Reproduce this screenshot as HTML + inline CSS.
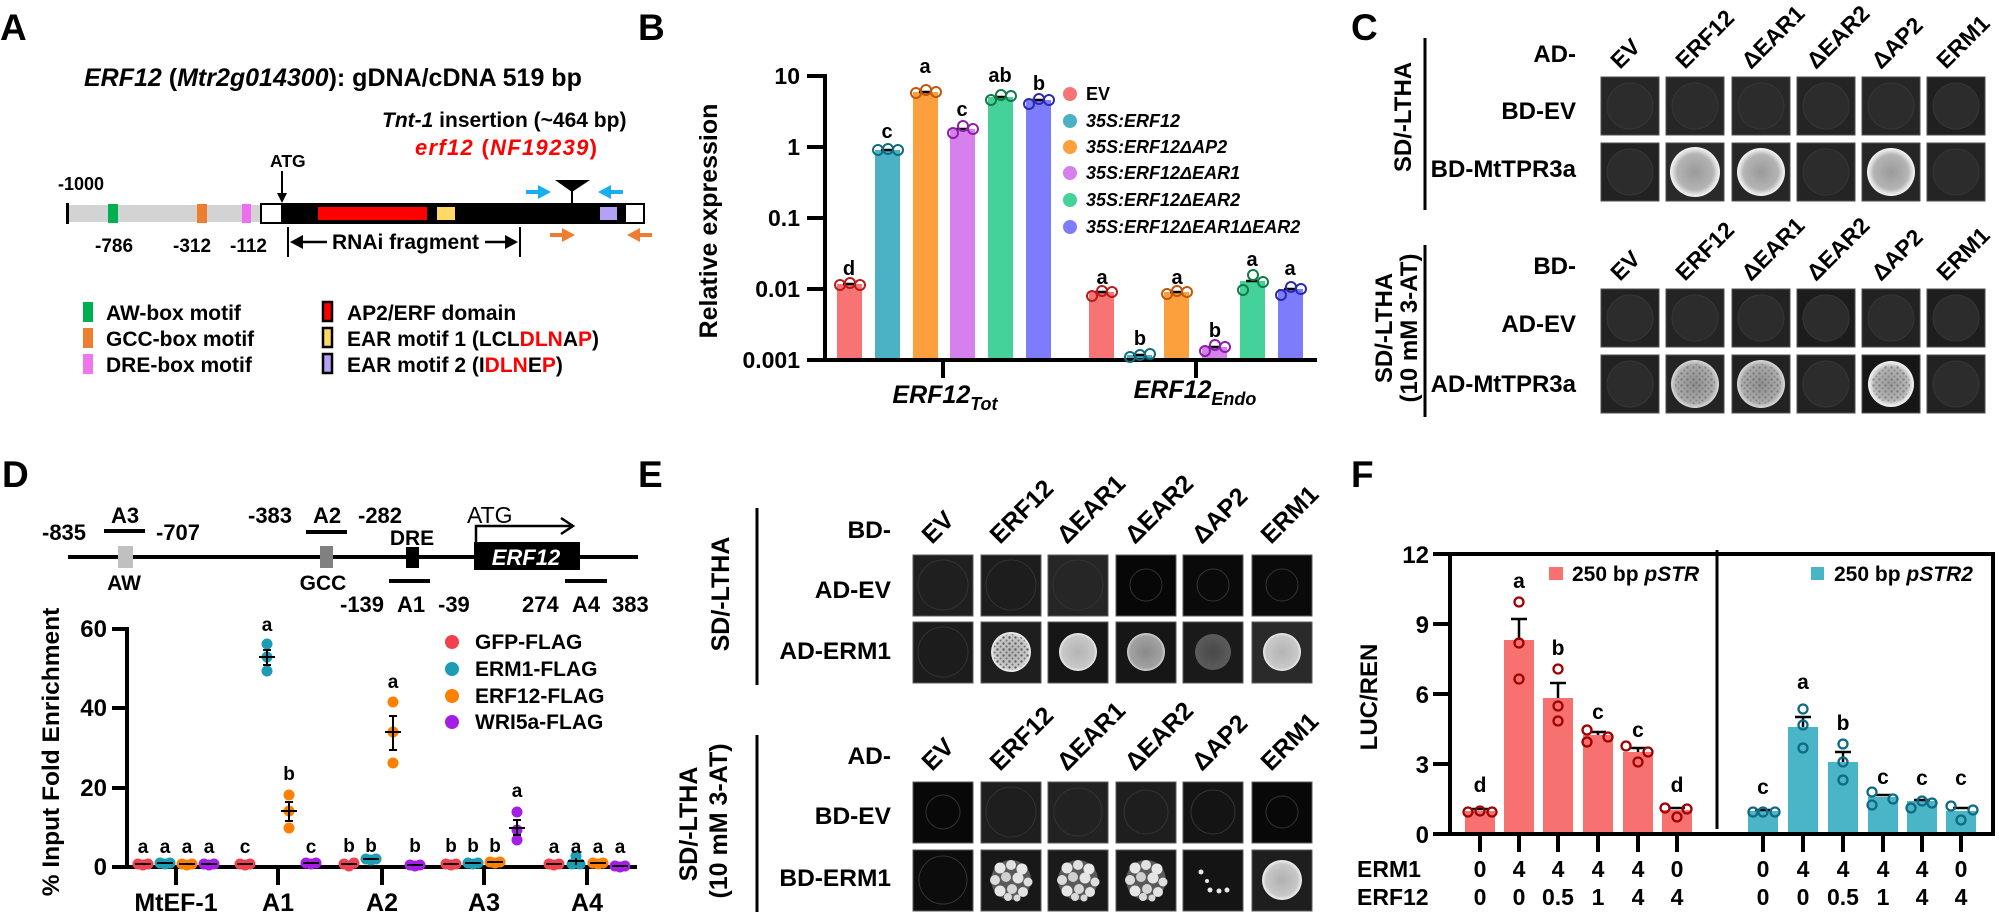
<!DOCTYPE html>
<html><head><meta charset="utf-8">
<style>
html,body{margin:0;padding:0;background:#fff;}
svg{display:block;}
text{font-family:"Liberation Sans",Arial,sans-serif;font-weight:bold;}
.n{font-weight:normal;}
.i{font-style:italic;}
</style></head><body>
<svg width="2000" height="913" viewBox="0 0 2000 913" xmlns="http://www.w3.org/2000/svg">
<defs>
<radialGradient id="colC" cx="50%" cy="50%" r="50%"><stop offset="0" stop-color="#9a9a9a"/><stop offset="0.72" stop-color="#b4b4b4"/><stop offset="0.9" stop-color="#e2e2e2"/><stop offset="1" stop-color="#f6f6f6"/></radialGradient>
<radialGradient id="colCt" cx="50%" cy="50%" r="50%"><stop offset="0" stop-color="#8e8e8e"/><stop offset="0.8" stop-color="#acacac"/><stop offset="1" stop-color="#dadada"/></radialGradient>
<radialGradient id="colE1" cx="50%" cy="50%" r="50%"><stop offset="0" stop-color="#b4b4b4"/><stop offset="0.85" stop-color="#c8c8c8"/><stop offset="1" stop-color="#f0f0f0"/></radialGradient>
<radialGradient id="colE2" cx="50%" cy="50%" r="50%"><stop offset="0" stop-color="#8a8a8a"/><stop offset="0.85" stop-color="#a2a2a2"/><stop offset="1" stop-color="#d8d8d8"/></radialGradient>
<radialGradient id="colE3" cx="50%" cy="50%" r="50%"><stop offset="0" stop-color="#484848"/><stop offset="1" stop-color="#5c5c5c"/></radialGradient>
<radialGradient id="colE4" cx="50%" cy="50%" r="50%"><stop offset="0" stop-color="#b0b0b0"/><stop offset="0.8" stop-color="#c8c8c8"/><stop offset="1" stop-color="#f2f2f2"/></radialGradient>
<pattern id="speck" width="6" height="6" patternUnits="userSpaceOnUse">
<circle cx="1.5" cy="1.5" r="1.2" fill="#4a4a4a"/><circle cx="4.5" cy="4.5" r="1" fill="#5a5a5a"/>
</pattern>
<g id="blobs">
<circle r="20" fill="#5a5a5a"/>
<circle cx="-11" cy="-12" r="5.5" fill="#e6e6e6"/><circle cx="0" cy="-15" r="5" fill="#e0e0e0"/><circle cx="11" cy="-11" r="5.5" fill="#e8e8e8"/>
<circle cx="-16" cy="0" r="5" fill="#dcdcdc"/><circle cx="-5" cy="-3" r="5" fill="#d0d0d0"/><circle cx="7" cy="-2" r="5.5" fill="#e4e4e4"/><circle cx="17" cy="2" r="4.5" fill="#dedede"/>
<circle cx="-11" cy="11" r="5.5" fill="#e6e6e6"/><circle cx="1" cy="9" r="5" fill="#d6d6d6"/><circle cx="12" cy="12" r="5" fill="#e2e2e2"/><circle cx="-3" cy="17" r="4" fill="#dadada"/><circle cx="6" cy="18" r="3.5" fill="#d8d8d8"/>
</g>
</defs>

<!-- ================= PANEL A ================= -->
<text x="0" y="40" font-size="37">A</text>
<text x="84" y="86" font-size="25"><tspan class="i">ERF12</tspan> (<tspan class="i">Mtr2g014300</tspan>): gDNA/cDNA 519 bp</text>
<text x="382" y="127" font-size="21"><tspan class="i">Tnt-1</tspan> insertion (~464 bp)</text>
<text x="415" y="155" font-size="22" style="fill:#ff0000" textLength="182"><tspan class="i">erf12</tspan> (<tspan class="i">NF19239</tspan>)</text>
<text x="270" y="167" font-size="17.5">ATG</text>
<line x1="282" y1="171" x2="282" y2="195" stroke="#000" stroke-width="2"/>
<polygon points="277,193 287,193 282,203"/>
<text x="58" y="190" font-size="18">-1000</text>
<rect x="67" y="205" width="194" height="17" fill="#d3d3d3"/>
<rect x="66" y="203" width="3" height="21"/>
<rect x="108" y="204" width="10" height="19" fill="#00b050"/>
<rect x="197" y="204" width="10" height="19" fill="#ed7d31"/>
<rect x="242" y="204" width="9" height="19" fill="#ee6fee"/>
<rect x="282" y="203" width="343" height="21"/>
<rect x="261" y="204" width="21" height="19" fill="#fff" stroke="#000" stroke-width="2"/>
<rect x="318" y="207" width="109" height="13" fill="#ff0000"/>
<rect x="437" y="207" width="18" height="13" fill="#ffd966"/>
<rect x="600" y="207" width="17" height="13" fill="#b4a0f4"/>
<rect x="625" y="204" width="19" height="19" fill="#fff" stroke="#000" stroke-width="2"/>
<polygon points="555,180 590,180 572,192"/>
<line x1="572" y1="190" x2="572" y2="203" stroke="#000" stroke-width="2"/>
<line x1="526" y1="192" x2="540" y2="192" stroke="#19aef0" stroke-width="4"/>
<polygon points="538,185 551,192 538,199" fill="#19aef0"/>
<polygon points="598,192 611,185 611,199" fill="#19aef0"/>
<line x1="609" y1="192" x2="623" y2="192" stroke="#19aef0" stroke-width="4"/>
<line x1="550" y1="235" x2="564" y2="235" stroke="#ed7d31" stroke-width="4"/>
<polygon points="562,228 575,235 562,242" fill="#ed7d31"/>
<polygon points="627,235 640,228 640,242" fill="#ed7d31"/>
<line x1="638" y1="235" x2="652" y2="235" stroke="#ed7d31" stroke-width="4"/>
<text x="95" y="252" font-size="19">-786</text>
<text x="173" y="252" font-size="19">-312</text>
<text x="230" y="252" font-size="19">-112</text>
<line x1="288" y1="227" x2="288" y2="257" stroke="#000" stroke-width="2"/>
<polygon points="290,242 303,235 303,249"/>
<line x1="301" y1="242" x2="327" y2="242" stroke="#000" stroke-width="2.5"/>
<text x="332" y="249" font-size="21">RNAi fragment</text>
<line x1="485" y1="242" x2="507" y2="242" stroke="#000" stroke-width="2.5"/>
<polygon points="518,242 505,235 505,249"/>
<line x1="520" y1="227" x2="520" y2="257" stroke="#000" stroke-width="2"/>
<rect x="83" y="302" width="10" height="20" fill="#00b050"/>
<rect x="83" y="328" width="10" height="20" fill="#ed7d31"/>
<rect x="83" y="354" width="10" height="20" fill="#ee77ee"/>
<text x="106" y="320" font-size="21">AW-box motif</text>
<text x="106" y="346" font-size="21">GCC-box motif</text>
<text x="106" y="372" font-size="21">DRE-box motif</text>
<rect x="323" y="302" width="9" height="19" fill="#ff0000" stroke="#000" stroke-width="2.5"/>
<rect x="323" y="328" width="9" height="19" fill="#ffd966" stroke="#000" stroke-width="2.5"/>
<rect x="323" y="354" width="9" height="19" fill="#b4a0f4" stroke="#000" stroke-width="2.5"/>
<text x="347" y="320" font-size="21">AP2/ERF domain</text>
<text x="347" y="346" font-size="21">EAR motif 1 (LCL<tspan style="fill:#ff0000">DLN</tspan>A<tspan style="fill:#ff0000">P</tspan>)</text>
<text x="347" y="372" font-size="21">EAR motif 2 (I<tspan style="fill:#ff0000">DLN</tspan>E<tspan style="fill:#ff0000">P</tspan>)</text>

<!-- ================= PANEL B ================= -->
<text x="638" y="40" font-size="37">B</text>
<g stroke="#000" stroke-width="4">
<line x1="825" y1="74" x2="825" y2="362"/>
<line x1="823" y1="360" x2="1317" y2="360"/>
<line x1="807" y1="76" x2="825" y2="76"/>
<line x1="807" y1="147" x2="825" y2="147"/>
<line x1="807" y1="218" x2="825" y2="218"/>
<line x1="807" y1="289" x2="825" y2="289"/>
<line x1="807" y1="360" x2="825" y2="360"/>
<line x1="943" y1="362" x2="943" y2="378"/>
<line x1="1196" y1="362" x2="1196" y2="378"/>
</g>
<g font-size="23" text-anchor="end">
<text x="800" y="84">10</text>
<text x="800" y="155">1</text>
<text x="800" y="226">0.1</text>
<text x="800" y="297">0.01</text>
<text x="800" y="368">0.001</text>
</g>
<text transform="translate(717,221) rotate(-90)" text-anchor="middle" font-size="25">Relative expression</text>
<rect x="837" y="284" width="25" height="74" fill="#f87474"/>
<rect x="875" y="150" width="25" height="208" fill="#4bb2c5"/>
<rect x="913" y="92" width="25" height="266" fill="#fca03e"/>
<rect x="950" y="129" width="25" height="229" fill="#d680ee"/>
<rect x="988" y="97" width="25" height="261" fill="#44d19a"/>
<rect x="1026" y="100" width="25" height="258" fill="#7d7dfb"/>
<rect x="1089" y="292" width="25" height="66" fill="#f87474"/>
<rect x="1127" y="355" width="25" height="3" fill="#4bb2c5"/>
<rect x="1164" y="292" width="25" height="66" fill="#fca03e"/>
<rect x="1202" y="347" width="25" height="11" fill="#d680ee"/>
<rect x="1240" y="281" width="25" height="77" fill="#44d19a"/>
<rect x="1278" y="289" width="25" height="69" fill="#7d7dfb"/>
<g stroke="#000" stroke-width="2.5">
<line x1="843" y1="284" x2="856" y2="284"/><line x1="881" y1="150" x2="894" y2="150"/><line x1="919" y1="92" x2="932" y2="92"/>
<line x1="956" y1="129" x2="969" y2="129"/><line x1="994" y1="97" x2="1007" y2="97"/><line x1="1032" y1="100" x2="1045" y2="100"/>
<line x1="1095" y1="292" x2="1108" y2="292"/><line x1="1133" y1="355" x2="1146" y2="355"/><line x1="1170" y1="292" x2="1183" y2="292"/>
<line x1="1208" y1="347" x2="1221" y2="347"/><line x1="1246" y1="281" x2="1259" y2="281"/><line x1="1284" y1="289" x2="1297" y2="289"/>
</g>
<g fill="none" stroke-width="2">
<g stroke="#b91c1c"><circle cx="840" cy="285" r="5"/><circle cx="850" cy="283" r="5"/><circle cx="860" cy="285" r="5"/>
<circle cx="1092" cy="296" r="5"/><circle cx="1102" cy="291" r="5"/><circle cx="1112" cy="292" r="5"/></g>
<g stroke="#0f6b80"><circle cx="878" cy="150" r="5"/><circle cx="888" cy="149" r="5"/><circle cx="898" cy="150" r="5"/>
<circle cx="1130" cy="357" r="5"/><circle cx="1140" cy="355" r="5"/><circle cx="1150" cy="354" r="5"/></g>
<g stroke="#c2570c"><circle cx="916" cy="93" r="5"/><circle cx="926" cy="90" r="5"/><circle cx="936" cy="92" r="5"/>
<circle cx="1167" cy="294" r="5"/><circle cx="1177" cy="291" r="5"/><circle cx="1187" cy="292" r="5"/></g>
<g stroke="#8b1fa8"><circle cx="953" cy="133" r="5"/><circle cx="963" cy="126" r="5"/><circle cx="973" cy="129" r="5"/>
<circle cx="1205" cy="351" r="5"/><circle cx="1215" cy="345" r="5"/><circle cx="1225" cy="347" r="5"/></g>
<g stroke="#0f7a45"><circle cx="991" cy="100" r="5"/><circle cx="1001" cy="95" r="5"/><circle cx="1011" cy="96" r="5"/>
<circle cx="1243" cy="290" r="5"/><circle cx="1253" cy="275" r="5"/><circle cx="1263" cy="282" r="5"/></g>
<g stroke="#2a2ab0"><circle cx="1029" cy="104" r="5"/><circle cx="1039" cy="99" r="5"/><circle cx="1049" cy="100" r="5"/>
<circle cx="1281" cy="295" r="5"/><circle cx="1291" cy="287" r="5"/><circle cx="1301" cy="289" r="5"/></g>
</g>
<g font-size="20" text-anchor="middle">
<text x="849" y="275">d</text><text x="887" y="138">c</text><text x="925" y="73">a</text>
<text x="962" y="116">c</text><text x="1000" y="82">ab</text><text x="1039" y="90">b</text>
<text x="1102" y="284">a</text><text x="1140" y="345">b</text><text x="1177" y="284">a</text>
<text x="1215" y="337">b</text><text x="1252" y="266">a</text><text x="1290" y="275">a</text>
</g>
<text x="945" y="403" font-size="25" text-anchor="middle" class="i">ERF12<tspan font-size="18" dy="7">Tot</tspan></text>
<text x="1195" y="398" font-size="25" text-anchor="middle" class="i">ERF12<tspan font-size="18" dy="7">Endo</tspan></text>
<circle cx="1070" cy="94" r="7" fill="#f87474"/>
<circle cx="1070" cy="121" r="7" fill="#4bb2c5"/>
<circle cx="1070" cy="147" r="7" fill="#fca03e"/>
<circle cx="1070" cy="173" r="7" fill="#d680ee"/>
<circle cx="1070" cy="200" r="7" fill="#44d19a"/>
<circle cx="1070" cy="227" r="7" fill="#7d7dfb"/>
<g font-size="18">
<text x="1086" y="100">EV</text>
<text x="1086" y="127" class="i">35S:ERF12</text>
<text x="1086" y="153" class="i">35S:ERF12ΔAP2</text>
<text x="1086" y="179" class="i">35S:ERF12ΔEAR1</text>
<text x="1086" y="206" class="i">35S:ERF12ΔEAR2</text>
<text x="1086" y="233" class="i">35S:ERF12ΔEAR1ΔEAR2</text>
</g>

<!-- ================= PANEL C ================= -->
<text x="1351" y="40" font-size="37">C</text>
<line x1="1425" y1="38" x2="1425" y2="210" stroke="#000" stroke-width="3"/>
<line x1="1425" y1="245" x2="1425" y2="417" stroke="#000" stroke-width="3"/>
<text transform="translate(1411,117) rotate(-90)" text-anchor="middle" font-size="24">SD/-LTHA</text>
<text transform="translate(1392,328) rotate(-90)" text-anchor="middle" font-size="24">SD/-LTHA</text>
<text transform="translate(1417,328) rotate(-90)" text-anchor="middle" font-size="24">(10 mM 3-AT)</text>
<g font-size="24" text-anchor="end">
<text x="1576" y="62">AD-</text>
<text x="1576" y="119">BD-EV</text>
<text x="1576" y="177">BD-MtTPR3a</text>
<text x="1576" y="274">BD-</text>
<text x="1576" y="332">AD-EV</text>
<text x="1576" y="392">AD-MtTPR3a</text>
</g>
<g font-size="23">
<text transform="translate(1620,70) rotate(-45)">EV</text>
<text transform="translate(1685,70) rotate(-45)">ERF12</text>
<text transform="translate(1751,70) rotate(-45)">ΔEAR1</text>
<text transform="translate(1816,70) rotate(-45)">ΔEAR2</text>
<text transform="translate(1881,70) rotate(-45)">ΔAP2</text>
<text transform="translate(1946,70) rotate(-45)">ERM1</text>
<text transform="translate(1620,282) rotate(-45)">EV</text>
<text transform="translate(1685,282) rotate(-45)">ERF12</text>
<text transform="translate(1751,282) rotate(-45)">ΔEAR1</text>
<text transform="translate(1816,282) rotate(-45)">ΔEAR2</text>
<text transform="translate(1881,282) rotate(-45)">ΔAP2</text>
<text transform="translate(1946,282) rotate(-45)">ERM1</text>
</g>
<g stroke="#4e4e4e" stroke-width="1">
<rect x="1601" y="77" width="58" height="58" fill="#262626"/><rect x="1666" y="77" width="58" height="58" fill="#262626"/><rect x="1732" y="77" width="58" height="58" fill="#282828"/><rect x="1797" y="77" width="58" height="58" fill="#242424"/><rect x="1862" y="77" width="58" height="58" fill="#262626"/><rect x="1927" y="77" width="58" height="58" fill="#202020"/>
<rect x="1601" y="143" width="58" height="58" fill="#222"/><rect x="1666" y="143" width="58" height="58" fill="#2a2a2a"/><rect x="1732" y="143" width="58" height="58" fill="#262626"/><rect x="1797" y="143" width="58" height="58" fill="#242424"/><rect x="1862" y="143" width="58" height="58" fill="#262626"/><rect x="1927" y="143" width="58" height="58" fill="#242424"/>
<rect x="1601" y="289" width="58" height="58" fill="#222"/><rect x="1666" y="289" width="58" height="58" fill="#242424"/><rect x="1732" y="289" width="58" height="58" fill="#222"/><rect x="1797" y="289" width="58" height="58" fill="#1c1c1c"/><rect x="1862" y="289" width="58" height="58" fill="#222"/><rect x="1927" y="289" width="58" height="58" fill="#1e1e1e"/>
<rect x="1601" y="355" width="58" height="58" fill="#222"/><rect x="1666" y="355" width="58" height="58" fill="#242424"/><rect x="1732" y="355" width="58" height="58" fill="#222"/><rect x="1797" y="355" width="58" height="58" fill="#222"/><rect x="1862" y="355" width="58" height="58" fill="#161616"/><rect x="1927" y="355" width="58" height="58" fill="#222"/>
</g>
<g fill="#2c2c2c" stroke="#363636" stroke-width="1">
<circle cx="1630" cy="106" r="23"/><circle cx="1695" cy="106" r="23"/><circle cx="1761" cy="106" r="23"/><circle cx="1826" cy="106" r="23"/><circle cx="1891" cy="106" r="23"/><circle cx="1956" cy="106" r="23"/>
<circle cx="1630" cy="172" r="23"/><circle cx="1826" cy="172" r="23"/><circle cx="1956" cy="172" r="23"/>
<circle cx="1630" cy="318" r="23"/><circle cx="1695" cy="318" r="23"/><circle cx="1761" cy="318" r="23"/><circle cx="1826" cy="318" r="23"/><circle cx="1891" cy="318" r="23"/><circle cx="1956" cy="318" r="23"/>
<circle cx="1630" cy="384" r="23"/><circle cx="1826" cy="384" r="23"/><circle cx="1956" cy="384" r="23"/>
</g>
<circle cx="1695" cy="172" r="25" fill="url(#colC)"/>
<circle cx="1761" cy="172" r="24" fill="url(#colC)"/>
<circle cx="1891" cy="172" r="24" fill="url(#colC)"/>
<circle cx="1695" cy="384" r="24" fill="url(#colCt)"/>
<circle cx="1761" cy="384" r="24" fill="url(#colCt)"/>
<circle cx="1891" cy="384" r="23" fill="url(#colC)"/>
<g fill="url(#speck)" opacity="0.45">
<circle cx="1695" cy="384" r="20"/><circle cx="1761" cy="384" r="20"/><circle cx="1891" cy="384" r="19"/>
</g>

<!-- ================= PANEL D ================= -->
<text x="2" y="487" font-size="37">D</text>
<line x1="68" y1="557" x2="638" y2="557" stroke="#000" stroke-width="4"/>
<rect x="118" y="546" width="15" height="22" fill="#c0c0c0"/>
<rect x="320" y="546" width="13" height="22" fill="#808080"/>
<rect x="406" y="547" width="13" height="21"/>
<rect x="474" y="542" width="106" height="28"/>
<text x="526" y="565" font-size="22" text-anchor="middle" class="i" style="fill:#fff">ERF12</text>
<polyline points="476,542 476,526 572,526" fill="none" stroke="#000" stroke-width="2.5"/>
<polyline points="561,518 573,526 561,534" fill="none" stroke="#000" stroke-width="2.5"/>
<text x="467" y="523" font-size="23" class="n">ATG</text>
<g font-size="22" class="n">
<text x="42" y="540">-835</text><text x="156" y="540">-707</text>
<text x="248" y="523">-383</text><text x="358" y="523">-282</text>
<text x="340" y="612">-139</text><text x="438" y="612">-39</text>
<text x="522" y="612">274</text><text x="612" y="612">383</text>
</g>
<g font-size="22" text-anchor="middle">
<text x="125" y="523">A3</text><text x="327" y="523">A2</text>
<text x="411" y="612">A1</text><text x="586" y="612">A4</text>
</g>
<g font-size="21" text-anchor="middle">
<text x="124" y="590">AW</text><text x="323" y="590">GCC</text><text x="412" y="545">DRE</text>
</g>
<g stroke="#000" stroke-width="4">
<line x1="104" y1="531" x2="145" y2="531"/><line x1="306" y1="532" x2="347" y2="532"/>
<line x1="389" y1="581" x2="430" y2="581"/><line x1="565" y1="581" x2="607" y2="581"/>
</g>
<g stroke="#000" stroke-width="4">
<line x1="127" y1="627" x2="127" y2="869"/>
<line x1="125" y1="867" x2="637" y2="867"/>
<line x1="112" y1="629" x2="127" y2="629"/><line x1="112" y1="708" x2="127" y2="708"/>
<line x1="112" y1="788" x2="127" y2="788"/><line x1="112" y1="867" x2="127" y2="867"/>
<line x1="176" y1="869" x2="176" y2="885"/><line x1="278" y1="869" x2="278" y2="885"/>
<line x1="382" y1="869" x2="382" y2="885"/><line x1="484" y1="869" x2="484" y2="885"/>
<line x1="587" y1="869" x2="587" y2="885"/>
</g>
<g font-size="24" text-anchor="end">
<text x="107" y="637">60</text><text x="107" y="716">40</text><text x="107" y="796">20</text><text x="107" y="875">0</text>
</g>
<text transform="translate(59,752) rotate(-90)" text-anchor="middle" font-size="24.5">% Input Fold Enrichment</text>
<g font-size="25" text-anchor="middle">
<text x="176" y="911">MtEF-1</text><text x="278" y="911">A1</text><text x="382" y="911">A2</text><text x="484" y="911">A3</text><text x="587" y="911">A4</text>
</g>
<g fill="#f2414e">
<circle cx="138" cy="864" r="5.5"/><circle cx="143" cy="865" r="5.5"/><circle cx="148" cy="864" r="5.5"/>
<circle cx="240" cy="864" r="5.5"/><circle cx="245" cy="865" r="5.5"/><circle cx="250" cy="864" r="5.5"/>
<circle cx="344" cy="864" r="5.5"/><circle cx="349" cy="866" r="5.5"/><circle cx="354" cy="863" r="5.5"/>
<circle cx="446" cy="864" r="5.5"/><circle cx="451" cy="865" r="5.5"/><circle cx="456" cy="864" r="5.5"/>
<circle cx="549" cy="864" r="5.5"/><circle cx="554" cy="865" r="5.5"/><circle cx="559" cy="864" r="5.5"/>
</g>
<g fill="#1c9db3">
<circle cx="160" cy="863" r="5.5"/><circle cx="165" cy="864" r="5.5"/><circle cx="170" cy="863" r="5.5"/>
<circle cx="267" cy="644" r="5.5"/><circle cx="267" cy="657" r="5.5"/><circle cx="267" cy="671" r="5.5"/>
<circle cx="366" cy="859" r="5.5"/><circle cx="371" cy="860" r="5.5"/><circle cx="376" cy="859" r="5.5"/>
<circle cx="468" cy="863" r="5.5"/><circle cx="473" cy="864" r="5.5"/><circle cx="478" cy="863" r="5.5"/>
<circle cx="576" cy="856" r="5.5"/><circle cx="572" cy="864" r="5.5"/><circle cx="580" cy="864" r="5.5"/>
</g>
<g fill="#ff8000">
<circle cx="182" cy="864" r="5.5"/><circle cx="187" cy="865" r="5.5"/><circle cx="192" cy="864" r="5.5"/>
<circle cx="289" cy="795" r="5.5"/><circle cx="289" cy="811" r="5.5"/><circle cx="289" cy="828" r="5.5"/>
<circle cx="393" cy="702" r="5.5"/><circle cx="393" cy="732" r="5.5"/><circle cx="393" cy="763" r="5.5"/>
<circle cx="490" cy="862" r="5.5"/><circle cx="495" cy="863" r="5.5"/><circle cx="500" cy="862" r="5.5"/>
<circle cx="593" cy="863" r="5.5"/><circle cx="598" cy="864" r="5.5"/><circle cx="603" cy="863" r="5.5"/>
</g>
<g fill="#a41ee6">
<circle cx="204" cy="864" r="5.5"/><circle cx="209" cy="865" r="5.5"/><circle cx="214" cy="864" r="5.5"/>
<circle cx="306" cy="863" r="5.5"/><circle cx="311" cy="864" r="5.5"/><circle cx="316" cy="863" r="5.5"/>
<circle cx="410" cy="865" r="5.5"/><circle cx="415" cy="866" r="5.5"/><circle cx="420" cy="865" r="5.5"/>
<circle cx="517" cy="812" r="5.5"/><circle cx="517" cy="830" r="5.5"/><circle cx="517" cy="840" r="5.5"/>
<circle cx="615" cy="866" r="5.5"/><circle cx="620" cy="867" r="5.5"/><circle cx="625" cy="866" r="5.5"/>
</g>
<g stroke="#000" stroke-width="2">
<line x1="135" y1="864" x2="151" y2="864"/><line x1="157" y1="863" x2="173" y2="863"/><line x1="179" y1="864" x2="195" y2="864"/><line x1="201" y1="864" x2="217" y2="864"/>
<line x1="237" y1="864" x2="253" y2="864"/><line x1="259" y1="657" x2="275" y2="657"/><line x1="267" y1="650" x2="267" y2="665"/><line x1="263" y1="650" x2="271" y2="650"/><line x1="263" y1="665" x2="271" y2="665"/>
<line x1="281" y1="811" x2="297" y2="811"/><line x1="289" y1="802" x2="289" y2="821"/><line x1="285" y1="802" x2="293" y2="802"/><line x1="285" y1="821" x2="293" y2="821"/>
<line x1="303" y1="863" x2="319" y2="863"/>
<line x1="341" y1="864" x2="357" y2="864"/><line x1="363" y1="859" x2="379" y2="859"/>
<line x1="385" y1="732" x2="401" y2="732"/><line x1="393" y1="716" x2="393" y2="750"/><line x1="389" y1="716" x2="397" y2="716"/><line x1="389" y1="750" x2="397" y2="750"/>
<line x1="407" y1="865" x2="423" y2="865"/>
<line x1="443" y1="864" x2="459" y2="864"/><line x1="465" y1="863" x2="481" y2="863"/><line x1="487" y1="862" x2="503" y2="862"/>
<line x1="509" y1="828" x2="525" y2="828"/><line x1="517" y1="820" x2="517" y2="835"/><line x1="513" y1="820" x2="521" y2="820"/><line x1="513" y1="835" x2="521" y2="835"/>
<line x1="546" y1="864" x2="562" y2="864"/><line x1="568" y1="861" x2="584" y2="861"/><line x1="576" y1="858" x2="576" y2="865"/><line x1="590" y1="863" x2="606" y2="863"/><line x1="612" y1="866" x2="628" y2="866"/>
</g>
<g font-size="19" text-anchor="middle">
<text x="143" y="853">a</text><text x="165" y="853">a</text><text x="187" y="853">a</text><text x="209" y="853">a</text>
<text x="245" y="853">c</text><text x="267" y="631">a</text><text x="289" y="780">b</text><text x="311" y="853">c</text>
<text x="349" y="852">b</text><text x="371" y="852">b</text><text x="393" y="688">a</text><text x="415" y="852">b</text>
<text x="451" y="852">b</text><text x="473" y="852">b</text><text x="495" y="852">b</text><text x="517" y="797">a</text>
<text x="554" y="853">a</text><text x="576" y="853">a</text><text x="598" y="853">a</text><text x="620" y="853">a</text>
</g>
<circle cx="452" cy="642" r="7" fill="#f2414e"/>
<circle cx="452" cy="669" r="7" fill="#1c9db3"/>
<circle cx="452" cy="696" r="7" fill="#ff8000"/>
<circle cx="452" cy="722" r="7" fill="#a41ee6"/>
<g font-size="21">
<text x="475" y="649">GFP-FLAG</text>
<text x="475" y="676">ERM1-FLAG</text>
<text x="475" y="703">ERF12-FLAG</text>
<text x="475" y="729">WRI5a-FLAG</text>
</g>

<!-- ================= PANEL E ================= -->
<text x="638" y="487" font-size="37">E</text>
<line x1="757" y1="508" x2="757" y2="685" stroke="#000" stroke-width="3"/>
<line x1="757" y1="735" x2="757" y2="912" stroke="#000" stroke-width="3"/>
<text transform="translate(729,594) rotate(-90)" text-anchor="middle" font-size="25">SD/-LTHA</text>
<text transform="translate(697,824) rotate(-90)" text-anchor="middle" font-size="25">SD/-LTHA</text>
<text transform="translate(727,821) rotate(-90)" text-anchor="middle" font-size="25">(10 mM 3-AT)</text>
<g font-size="24.5" text-anchor="end">
<text x="891" y="538">BD-</text>
<text x="891" y="598">AD-EV</text>
<text x="891" y="659">AD-ERM1</text>
<text x="891" y="764">AD-</text>
<text x="891" y="824">BD-EV</text>
<text x="891" y="886">BD-ERM1</text>
</g>
<g font-size="25">
<text transform="translate(932,545) rotate(-45)">EV</text>
<text transform="translate(1000,545) rotate(-45)">ERF12</text>
<text transform="translate(1067,545) rotate(-45)">ΔEAR1</text>
<text transform="translate(1135,545) rotate(-45)">ΔEAR2</text>
<text transform="translate(1202,545) rotate(-45)">ΔAP2</text>
<text transform="translate(1271,545) rotate(-45)">ERM1</text>
<text transform="translate(932,772) rotate(-45)">EV</text>
<text transform="translate(1000,772) rotate(-45)">ERF12</text>
<text transform="translate(1067,772) rotate(-45)">ΔEAR1</text>
<text transform="translate(1135,772) rotate(-45)">ΔEAR2</text>
<text transform="translate(1202,772) rotate(-45)">ΔAP2</text>
<text transform="translate(1271,772) rotate(-45)">ERM1</text>
</g>
<g stroke="#5a5a5a" stroke-width="1">
<rect x="913" y="555" width="60" height="61" fill="#1f1f1f"/><rect x="981" y="555" width="60" height="61" fill="#1d1d1d"/><rect x="1048" y="555" width="60" height="61" fill="#262626"/><rect x="1116" y="555" width="60" height="61" fill="#070707"/><rect x="1183" y="555" width="60" height="61" fill="#0a0a0a"/><rect x="1252" y="555" width="60" height="61" fill="#0a0a0a"/>
<rect x="913" y="622" width="60" height="61" fill="#1c1c1c"/><rect x="981" y="622" width="60" height="61" fill="#1e1e1e"/><rect x="1048" y="622" width="60" height="61" fill="#161616"/><rect x="1116" y="622" width="60" height="61" fill="#161616"/><rect x="1183" y="622" width="60" height="61" fill="#1a1a1a"/><rect x="1252" y="622" width="60" height="61" fill="#2a2a2a"/>
<rect x="913" y="782" width="60" height="61" fill="#080808"/><rect x="981" y="782" width="60" height="61" fill="#1e1e1e"/><rect x="1048" y="782" width="60" height="61" fill="#222"/><rect x="1116" y="782" width="60" height="61" fill="#1e1e1e"/><rect x="1183" y="782" width="60" height="61" fill="#141414"/><rect x="1252" y="782" width="60" height="61" fill="#080808"/>
<rect x="913" y="850" width="60" height="61" fill="#0c0c0c"/><rect x="981" y="850" width="60" height="61" fill="#181818"/><rect x="1048" y="850" width="60" height="61" fill="#1a1a1a"/><rect x="1116" y="850" width="60" height="61" fill="#181818"/><rect x="1183" y="850" width="60" height="61" fill="#141414"/><rect x="1252" y="850" width="60" height="61" fill="#1e1e1e"/>
</g>
<g fill="none" stroke="#333" stroke-width="1">
<circle cx="943" cy="585" r="25"/><circle cx="1011" cy="585" r="25"/><circle cx="1078" cy="585" r="25"/>
<circle cx="1146" cy="585" r="16"/><circle cx="1213" cy="585" r="16"/><circle cx="1282" cy="585" r="16"/>
<circle cx="943" cy="652" r="25"/>
<circle cx="943" cy="812" r="17"/><circle cx="1011" cy="812" r="25"/><circle cx="1078" cy="812" r="24"/><circle cx="1146" cy="812" r="22"/><circle cx="1213" cy="812" r="22"/><circle cx="1282" cy="812" r="16"/>
<circle cx="943" cy="880" r="24"/>
</g>
<circle cx="1011" cy="652" r="20" fill="url(#colE4)"/>
<circle cx="1011" cy="652" r="18" fill="url(#speck)" opacity="0.8"/>
<circle cx="1078" cy="652" r="19" fill="url(#colE1)"/>
<circle cx="1146" cy="652" r="19" fill="url(#colE2)"/>
<circle cx="1213" cy="652" r="18" fill="url(#colE3)"/>
<circle cx="1282" cy="652" r="19" fill="url(#colE1)"/>
<use href="#blobs" x="1011" y="880"/>
<use href="#blobs" x="1078" y="880"/>
<use href="#blobs" x="1146" y="880"/>
<g fill="#e8e8e8">
<circle cx="1201" cy="872" r="2.5"/><circle cx="1207" cy="881" r="2"/><circle cx="1210" cy="890" r="2.5"/><circle cx="1219" cy="891" r="2.5"/><circle cx="1227" cy="890" r="2.5"/>
</g>
<circle cx="1282" cy="880" r="20" fill="url(#colE4)"/>

<!-- ================= PANEL F ================= -->
<text x="1351" y="487" font-size="37">F</text>
<g fill="#f87171">
<rect x="1465" y="811" width="30" height="21"/>
<rect x="1504" y="640" width="30" height="192"/>
<rect x="1543" y="698" width="30" height="134"/>
<rect x="1583" y="735" width="30" height="97"/>
<rect x="1623" y="752" width="30" height="80"/>
<rect x="1662" y="810" width="30" height="22"/>
</g>
<g fill="#4ab5c7">
<rect x="1748" y="811" width="30" height="21"/>
<rect x="1788" y="727" width="30" height="105"/>
<rect x="1828" y="762" width="30" height="70"/>
<rect x="1868" y="797" width="30" height="35"/>
<rect x="1907" y="801" width="30" height="31"/>
<rect x="1946" y="811" width="30" height="21"/>
</g>
<g stroke="#000" stroke-width="2.5">
<line x1="1472" y1="809" x2="1488" y2="809"/>
<line x1="1519" y1="640" x2="1519" y2="619"/><line x1="1511" y1="619" x2="1527" y2="619"/>
<line x1="1558" y1="698" x2="1558" y2="683"/><line x1="1550" y1="683" x2="1566" y2="683"/>
<line x1="1598" y1="735" x2="1598" y2="732"/><line x1="1590" y1="732" x2="1606" y2="732"/>
<line x1="1638" y1="752" x2="1638" y2="748"/><line x1="1630" y1="748" x2="1646" y2="748"/>
<line x1="1669" y1="808" x2="1685" y2="808"/>
<line x1="1755" y1="810" x2="1771" y2="810"/>
<line x1="1803" y1="727" x2="1803" y2="717"/><line x1="1795" y1="717" x2="1811" y2="717"/>
<line x1="1843" y1="762" x2="1843" y2="752"/><line x1="1835" y1="752" x2="1851" y2="752"/>
<line x1="1875" y1="795" x2="1891" y2="795"/>
<line x1="1914" y1="800" x2="1930" y2="800"/>
<line x1="1953" y1="808" x2="1969" y2="808"/>
</g>
<g fill="none" stroke-width="2.3">
<g stroke="#a00000">
<circle cx="1468" cy="812" r="4.5"/><circle cx="1480" cy="811" r="4.5"/><circle cx="1492" cy="812" r="4.5"/>
<circle cx="1519" cy="602" r="4.5"/><circle cx="1519" cy="643" r="4.5"/><circle cx="1519" cy="679" r="4.5"/>
<circle cx="1558" cy="669" r="4.5"/><circle cx="1558" cy="706" r="4.5"/><circle cx="1558" cy="721" r="4.5"/>
<circle cx="1587" cy="730" r="4.5"/><circle cx="1587" cy="742" r="4.5"/><circle cx="1608" cy="737" r="4.5"/>
<circle cx="1626" cy="746" r="4.5"/><circle cx="1638" cy="762" r="4.5"/><circle cx="1648" cy="752" r="4.5"/>
<circle cx="1665" cy="808" r="4.5"/><circle cx="1677" cy="817" r="4.5"/><circle cx="1687" cy="809" r="4.5"/>
</g>
<g stroke="#0e6a85">
<circle cx="1753" cy="812" r="4.5"/><circle cx="1763" cy="812" r="4.5"/><circle cx="1775" cy="812" r="4.5"/>
<circle cx="1803" cy="709" r="4.5"/><circle cx="1803" cy="725" r="4.5"/><circle cx="1803" cy="748" r="4.5"/>
<circle cx="1843" cy="744" r="4.5"/><circle cx="1843" cy="762" r="4.5"/><circle cx="1843" cy="780" r="4.5"/>
<circle cx="1872" cy="792" r="4.5"/><circle cx="1872" cy="805" r="4.5"/><circle cx="1893" cy="799" r="4.5"/>
<circle cx="1911" cy="808" r="4.5"/><circle cx="1922" cy="801" r="4.5"/><circle cx="1932" cy="803" r="4.5"/>
<circle cx="1951" cy="806" r="4.5"/><circle cx="1961" cy="820" r="4.5"/><circle cx="1973" cy="810" r="4.5"/>
</g>
</g>
<g stroke="#000" stroke-width="4" fill="none">
<line x1="1450" y1="552" x2="1450" y2="836"/>
<line x1="1433" y1="554" x2="1995" y2="554"/>
<line x1="1993" y1="552" x2="1993" y2="836"/>
<line x1="1433" y1="834" x2="1995" y2="834"/>
<line x1="1433" y1="624" x2="1450" y2="624"/>
<line x1="1433" y1="694" x2="1450" y2="694"/>
<line x1="1433" y1="764" x2="1450" y2="764"/>
<line x1="1480" y1="836" x2="1480" y2="852"/><line x1="1519" y1="836" x2="1519" y2="852"/><line x1="1558" y1="836" x2="1558" y2="852"/>
<line x1="1598" y1="836" x2="1598" y2="852"/><line x1="1638" y1="836" x2="1638" y2="852"/><line x1="1677" y1="836" x2="1677" y2="852"/>
<line x1="1763" y1="836" x2="1763" y2="852"/><line x1="1803" y1="836" x2="1803" y2="852"/><line x1="1843" y1="836" x2="1843" y2="852"/>
<line x1="1883" y1="836" x2="1883" y2="852"/><line x1="1922" y1="836" x2="1922" y2="852"/><line x1="1961" y1="836" x2="1961" y2="852"/>
</g>
<line x1="1717" y1="550" x2="1717" y2="829" stroke="#000" stroke-width="3"/>
<g font-size="24" text-anchor="end">
<text x="1429" y="563">12</text><text x="1429" y="633">9</text><text x="1429" y="703">6</text><text x="1429" y="773">3</text><text x="1429" y="843">0</text>
</g>
<text transform="translate(1377,697) rotate(-90)" text-anchor="middle" font-size="24">LUC/REN</text>
<rect x="1549" y="567" width="14" height="13" fill="#f87171"/>
<text x="1572" y="581" font-size="21">250 bp <tspan class="i">pSTR</tspan></text>
<rect x="1811" y="567" width="13" height="13" fill="#4ab5c7"/>
<text x="1834" y="581" font-size="21">250 bp <tspan class="i">pSTR2</tspan></text>
<g font-size="21" text-anchor="middle">
<text x="1480" y="792">d</text><text x="1519" y="588">a</text><text x="1558" y="655">b</text>
<text x="1598" y="719">c</text><text x="1638" y="737">c</text><text x="1677" y="792">d</text>
<text x="1763" y="794">c</text><text x="1803" y="689">a</text><text x="1843" y="730">b</text>
<text x="1883" y="784">c</text><text x="1922" y="785">c</text><text x="1961" y="785">c</text>
</g>
<g font-size="23">
<text x="1357" y="877">ERM1</text>
<text x="1357" y="905">ERF12</text>
</g>
<g font-size="23" text-anchor="middle">
<text x="1480" y="877">0</text><text x="1519" y="877">4</text><text x="1558" y="877">4</text><text x="1598" y="877">4</text><text x="1638" y="877">4</text><text x="1677" y="877">0</text>
<text x="1763" y="877">0</text><text x="1803" y="877">4</text><text x="1843" y="877">4</text><text x="1883" y="877">4</text><text x="1922" y="877">4</text><text x="1961" y="877">0</text>
<text x="1480" y="905">0</text><text x="1519" y="905">0</text><text x="1558" y="905">0.5</text><text x="1598" y="905">1</text><text x="1638" y="905">4</text><text x="1677" y="905">4</text>
<text x="1763" y="905">0</text><text x="1803" y="905">0</text><text x="1843" y="905">0.5</text><text x="1883" y="905">1</text><text x="1922" y="905">4</text><text x="1961" y="905">4</text>
</g>
</svg>
</body></html>
